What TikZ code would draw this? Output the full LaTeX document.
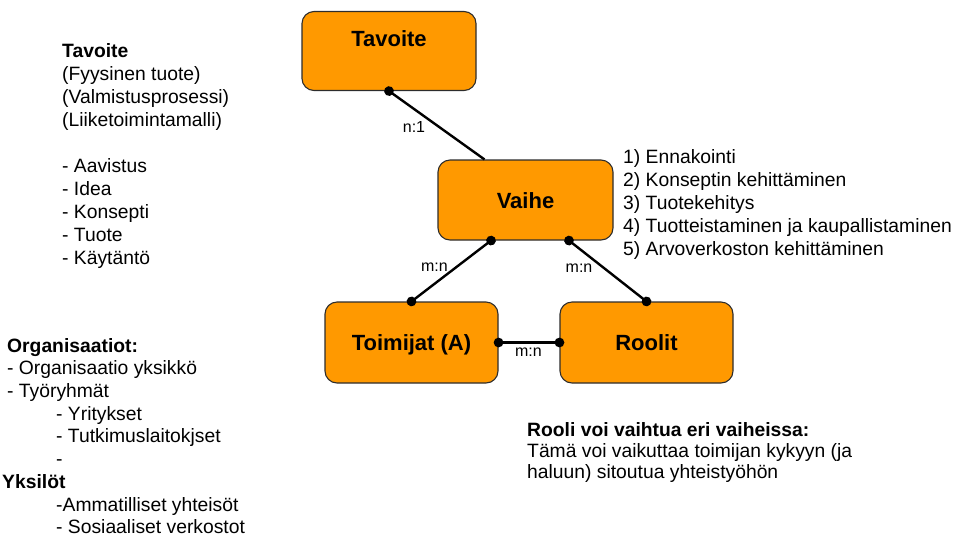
\documentclass[tikz,border=0pt]{standalone}
\usepackage{fontspec}
\setmainfont{Liberation Sans}
\usetikzlibrary{arrows.meta}
\definecolor{boxorange}{RGB}{255,153,0}
\definecolor{boxedge}{RGB}{45,45,45}

\begin{document}
\begin{tikzpicture}[x=1pt,y=-1pt,
  entity/.style={draw=boxedge, line width=1.1pt, fill=boxorange,
    rounded corners=12pt, minimum width=174pt, minimum height=79pt,
    inner sep=0pt, font=\fontsize{22}{26}\selectfont\bfseries,
    text height=16pt, text depth=0pt},
  link/.style={line width=2.4pt, {Circle[length=9.6pt,width=9.6pt]}-{Circle[length=9.6pt,width=9.6pt]},
    shorten <=-4.8pt, shorten >=-4.8pt},
  halflink/.style={line width=2.4pt, {Circle[length=9.6pt,width=9.6pt]}-,
    shorten <=-4.8pt},
  card/.style={font=\fontsize{16}{19}\selectfont, inner sep=0pt},
  listtext/.style={font=\fontsize{19.3}{23}\selectfont, align=left, inner sep=0pt, anchor=north west},
  notetext/.style={font=\fontsize{19.3}{21}\selectfont, align=left, inner sep=0pt, anchor=north west}
]
\useasboundingbox (0,0) rectangle (955,539);
\clip (0,0) rectangle (955,539);

% entities
\node[entity, text depth=26pt] (tav) at (389,51) {Tavoite};
\node[entity, minimum width=175pt, minimum height=80pt] (vai) at (525.5,200) {Vaihe};
\node[entity, minimum width=173pt, minimum height=81pt] (toi) at (411.5,342.5) {Toimijat (A)};
\node[entity, minimum width=173pt, minimum height=81pt] (rol) at (646.5,342.5) {Roolit};

% relations
\draw[halflink] (tav.south) -- ([xshift=-41pt]vai.north);
\draw[link] ([xshift=-34.5pt]vai.south) -- (toi.north);
\draw[link] ([xshift=43.5pt]vai.south) -- (rol.north);
\draw[link] (toi.east) -- (rol.west);

% cardinalities
\node[card] (c1) at (414,127) {n:1};
\node[card] (c2) at (434.5,267) {m:n};
\node[card] (c3) at (579,268) {m:n};
\node[card] (c4) at (528.5,352) {m:n};

% side lists
\node[listtext] (goals) at (62,43.2) {\textbf{Tavoite}\\
  (Fyysinen tuote)\\
  (Valmistusprosessi)\\
  (Liiketoimintamalli)\\[23pt]
  - Aavistus\\
  - Idea\\
  - Konsepti\\
  - Tuote\\
  - Käytäntö};

\node[listtext] (phases) at (623,149) {1) Ennakointi\\
  2) Konseptin kehittäminen\\
  3) Tuotekehitys\\
  4) Tuotteistaminen ja kaupallistaminen\\
  5) Arvoverkoston kehittäminen};

\node[listtext, font=\fontsize{19.3}{22.7}\selectfont] (actors) at (7,338) {\textbf{Organisaatiot:}\\
  - Organisaatio yksikkö\\
  - Työryhmät\\
  \hspace*{49pt}- Yritykset\\
  \hspace*{49pt}- Tutkimuslaitokjset\\
  \hspace*{49pt}-\\
  \hspace*{-5pt}\textbf{Yksilöt}\\
  \hspace*{49pt}-Ammatilliset yhteisöt\\
  \hspace*{49pt}- Sosiaaliset verkostot};

\node[notetext] (note) at (527,422) {\textbf{Rooli voi vaihtua eri vaiheissa:}\\
  Tämä voi vaikuttaa toimijan kykyyn (ja\\
  haluun) sitoutua yhteistyöhön};
\end{tikzpicture}
\end{document}
